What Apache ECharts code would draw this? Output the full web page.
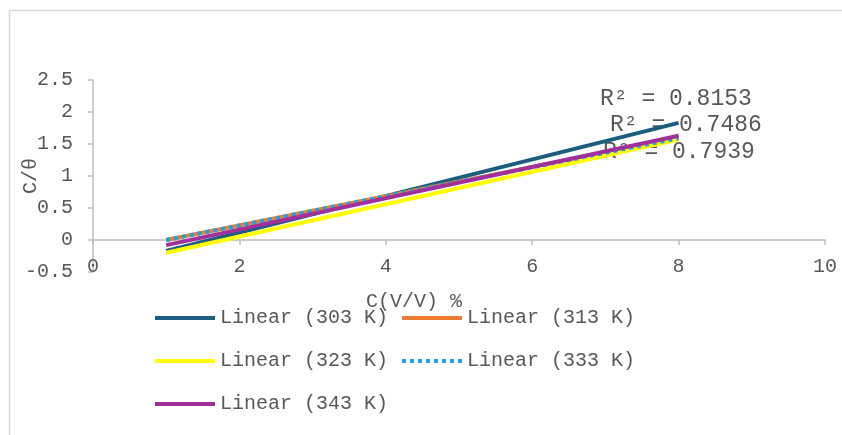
<!DOCTYPE html>
<html><head><meta charset="utf-8">
<script src="https://cdn.jsdelivr.net/npm/echarts@6/dist/echarts.min.js"></script>
<style>html,body{margin:0;padding:0;background:#fff}#c{width:842px;height:435px}</style>
</head><body><div id="c"></div>
<script>
// ---- data ----
const xValues = [1, 8];
const seriesNames = ['Linear (303 K)', 'Linear (313 K)', 'Linear (323 K)', 'Linear (333 K)', 'Linear (343 K)'];
const s303 = [-0.17, 1.83];
const s313 = [0.0, 1.60];
const s323 = [-0.20, 1.57];
const s333 = [0.0, 1.59];
const s343 = [-0.08, 1.63];
const r2Labels = ['R² = 0.8153', 'R² = 0.7486', 'R² = 0.7939'];
const xAxisRange = [0, 10, 2];      // min, max, interval
const yAxisRange = [-0.5, 2.5, 0.5];
const xTitle = 'C(V/V) %';
const yTitle = 'C/θ';

// ---- styling ----
const FONT = "'Liberation Mono', 'Courier New', monospace";
const TXT = '#595959';
const AX = '#bfbfbf';
const styles = [
  { color: '#1b5e7f', type: 'solid' },
  { color: '#ed7d31', type: 'solid' },
  { color: '#ffff00', type: 'solid' },
  { color: '#1fa3e0', type: 'dotted' },
  { color: '#a1309a', type: 'solid' }
];
const values = [s303, s313, s323, s333, s343];

const series = values.map((v, i) => ({
  name: seriesNames[i],
  type: 'line',
  xAxisIndex: 0,
  symbol: 'none',
  silent: true,
  z: 3,
  lineStyle: { color: styles[i].color, type: styles[i].type, width: 4 },
  itemStyle: { color: styles[i].color },
  data: xValues.map((x, j) => [x, v[j]])
}));

const r2Pos = [[600, 87], [610, 113], [603, 140]];

// legend rows (two per row)
const legendRows = [[0, 1], [2, 3], [4]];
const legendTops = [308, 351, 394];
const legends = legendRows.map((row, r) => ({
  data: row.map(i => seriesNames[i]),
  left: 153, top: legendTops[r], padding: 0,
  orient: 'horizontal',
  itemWidth: 60, itemHeight: 14, itemGap: 12,
  itemStyle: { opacity: 0 },
  lineStyle: { width: 4 },
  textStyle: { color: TXT, fontFamily: FONT, fontSize: 20 }
}));

const chart = echarts.init(document.getElementById('c'), null, { renderer: 'canvas' });
chart.setOption({
  animation: false,
  backgroundColor: '#fff',
  grid: { left: 93, right: 17, top: 80, bottom: 163, containLabel: false, outerBoundsMode: 'none' },
  xAxis: [
    {
      type: 'value', min: xAxisRange[0], max: xAxisRange[1], interval: xAxisRange[2],
      position: 'bottom',
      axisLine: { show: true, onZero: true, lineStyle: { color: AX, width: 1.5 } },
      axisTick: { show: true, length: 5, lineStyle: { color: AX, width: 1.5 } },
      axisLabel: { show: false },
      splitLine: { show: false }
    },
    {
      type: 'value', min: xAxisRange[0], max: xAxisRange[1], interval: xAxisRange[2],
      position: 'bottom',
      axisLine: { show: false, onZero: false },
      axisTick: { show: false },
      axisLabel: { show: true, margin: -15, color: TXT, fontFamily: FONT, fontSize: 20 },
      splitLine: { show: false }
    }
  ],
  yAxis: {
    type: 'value', min: yAxisRange[0], max: yAxisRange[1], interval: yAxisRange[2],
    name: yTitle, nameLocation: 'middle', nameRotate: 90, nameGap: 52, nameMoveOverlap: false,
    nameTextStyle: { color: TXT, fontFamily: FONT, fontSize: 20 },
    axisLine: { show: true, lineStyle: { color: AX, width: 1.5 } },
    axisTick: { show: true, length: 5, lineStyle: { color: AX, width: 1.5 } },
    axisLabel: { color: TXT, fontFamily: FONT, fontSize: 20, margin: 20 },
    splitLine: { show: false }
  },
  legend: legends,
  graphic: [
    { type: 'rect', left: 7, top: 8, z: -10, shape: { width: 900, height: 500 },
      style: { fill: 'none', stroke: '#d9d9d9', lineWidth: 1.5 } },
    { type: 'text', left: 366, top: 292, z: 0,
      style: { text: xTitle, fill: TXT, font: '20px ' + FONT } }
  ].concat(r2Labels.map((t, i) => ({
    type: 'text', left: r2Pos[i][0], top: r2Pos[i][1], z: 0,
    style: { text: t, fill: TXT, font: '23px ' + FONT }
  }))),
  series: series
});
</script></body></html>
